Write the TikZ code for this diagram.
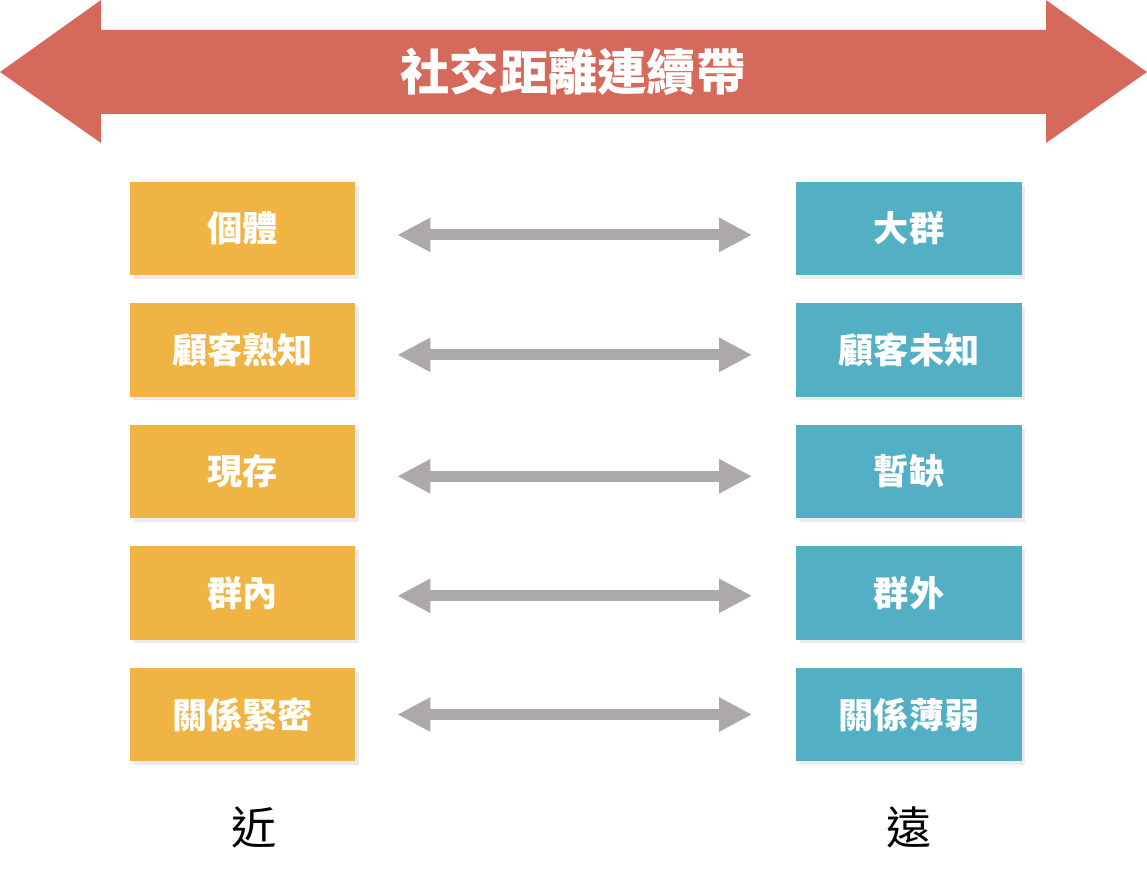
\documentclass[tikz,border=0pt]{standalone}
\usepackage{fontspec}
\newfontfamily\cjk{Noto Sans CJK TC}
\usetikzlibrary{arrows.meta,shadows}
\definecolor{bandred}{HTML}{D5695B}
\definecolor{nearyellow}{HTML}{EFB443}
\definecolor{farblue}{HTML}{52AFC4}
\definecolor{linkgray}{HTML}{ADA9A8}
\tikzset{
  nearbox/.style={fill=nearyellow, minimum width=5.625cm, minimum height=2.325cm, text=white, font=\cjk\bfseries\fontsize{25}{29}\selectfont, drop shadow={opacity=0.15, shadow xshift=0.09cm, shadow yshift=-0.09cm}},
  farbox/.style={nearbox, fill=farblue},
  link/.style={draw=linkgray, line width=0.275cm, {Triangle[length=0.825cm,width=0.8cm]}-{Triangle[length=0.825cm,width=0.8cm]}, shorten <=1.05cm, shorten >=1.1cm}
}
\begin{document}
\begin{tikzpicture}[x=0.025cm,y=-0.025cm]
        \useasboundingbox (0,0) rectangle (1147,887);
        \fill[bandred] (0,72) -- (101,0) -- (101,30) -- (1046,30) -- (1046,0) -- (1147,72) -- (1046,143) -- (1046,114) -- (101,114) -- (101,143) -- cycle;
        \node[text=white, font=\cjk\bfseries\fontsize{35}{40}\selectfont] (T) at (573,72) {社交距離連續帶};
        \node[nearbox] (L1) at (242.5,228.5) {個體};
        \node[nearbox] (L2) at (242.5,350) {顧客熟知};
        \node[nearbox] (L3) at (242.5,471.5) {現存};
        \node[nearbox] (L4) at (242.5,593) {群內};
        \node[nearbox] (L5) at (242.5,714.5) {關係緊密};
        \node[farbox] (R1) at (909,228.5) {大群};
        \node[farbox] (R2) at (909,350) {顧客未知};
        \node[farbox] (R3) at (909,471.5) {暫缺};
        \node[farbox] (R4) at (909,593) {群外};
        \node[farbox] (R5) at (909,714.5) {關係薄弱};
        \draw[link] ([yshift=-0.16cm]L1.east) -- ([yshift=-0.16cm]R1.west);
        \draw[link] ([yshift=-0.12cm]L2.east) -- ([yshift=-0.12cm]R2.west);
        \draw[link] ([yshift=-0.12cm]L3.east) -- ([yshift=-0.12cm]R3.west);
        \draw[link] ([yshift=-0.07cm]L4.east) -- ([yshift=-0.07cm]R4.west);
        \draw[link] (L5.east) -- (R5.west);
        \node[font=\cjk\fontsize{32}{36}\selectfont] (N) at (254,827) {近};
        \node[font=\cjk\fontsize{32}{36}\selectfont] (F) at (909,827) {遠};
    \end{tikzpicture}
\end{document}
